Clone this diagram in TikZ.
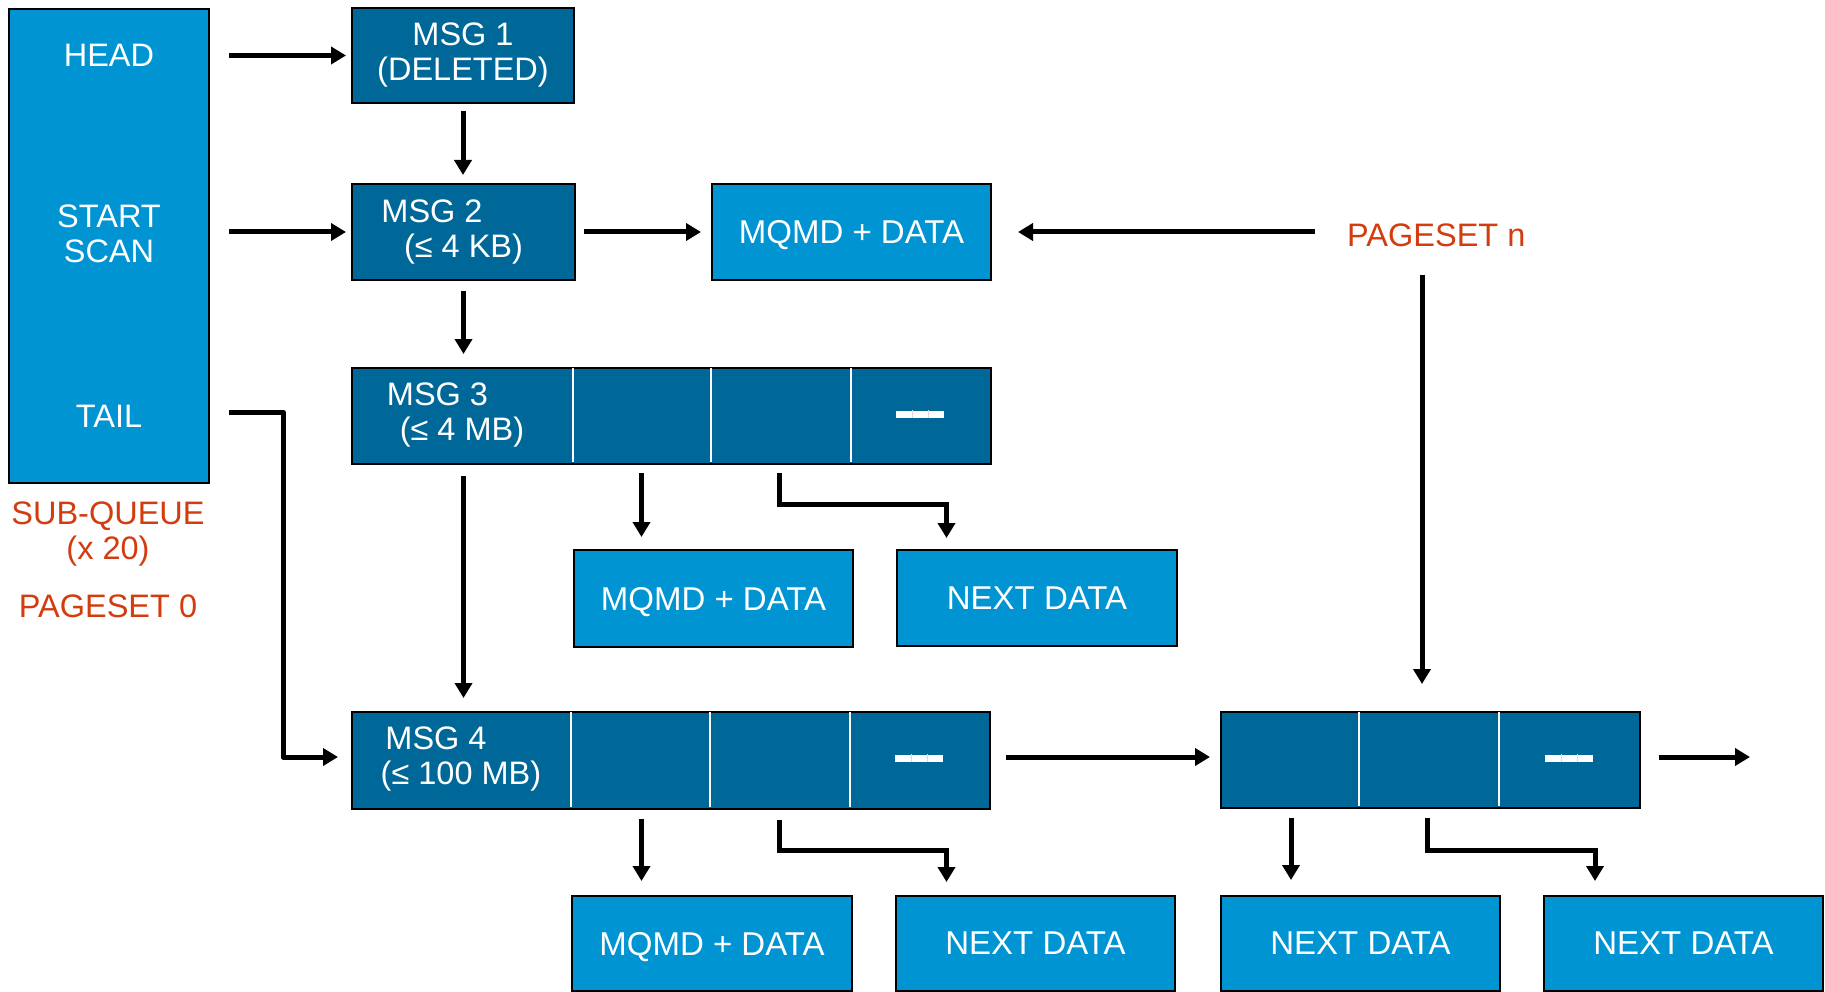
\documentclass[tikz,border=0pt]{standalone}
\usepackage{fontspec}
\setmainfont{Liberation Sans}
\usetikzlibrary{arrows.meta,calc}
\definecolor{lblue}{RGB}{0,148,211}
\definecolor{dblue}{RGB}{0,104,152}
\definecolor{qred}{RGB}{210,60,15}
\begin{document}
\begin{tikzpicture}[x=1pt,y=-1pt,
  font=\fontsize{32.5}{35}\selectfont,
  lbox/.style={draw=black, line width=2pt, fill=lblue, text=white, inner sep=0pt, anchor=north west, align=center},
  dbox/.style={lbox, fill=dblue},
  dtext/.style={font=\fontsize{33}{35}\selectfont, text depth=0pt},
  lbl/.style={text=white, inner sep=0pt, align=center},
  rlbl/.style={text=qred, inner sep=0pt, align=center},
  arr/.style={line width=5pt, -{Triangle[length=15pt,width=17pt]}},
  cellsep/.style={draw=white, line width=1.5pt},
  dashbar/.style={fill=white, draw=none, minimum width=48pt, minimum height=7pt, inner sep=0pt},
  barsep/.style={draw=black!15, line width=0.8pt}
]
\useasboundingbox (0,0) rectangle (1825,992);
\fill[white] (0,0) rectangle (1825,992);

% sub-queue
\node[lbox, minimum width=200pt, minimum height=474pt] (sq) at (8,8) {};
\node[lbl] (head) at (109,55) {HEAD};
\node[lbl] (scan) at (109,234) {START\\SCAN};
\node[lbl] (tail) at (109,416) {TAIL};
\node[rlbl] (subq) at (108,534) {SUB-QUEUE\\(x 20)};
\node[rlbl] (ps0) at (108,606) {PAGESET 0};

% messages
\node[dbox, minimum width=222pt, minimum height=95pt] (m1) at (351,7) {MSG 1\\(DELETED)};
\node[dbox, minimum width=223pt, minimum height=96pt] (m2) at (351,183) {MSG 2\hspace*{63pt}\\(≤ 4 KB)};
\node[lbox, dtext, minimum width=279pt, minimum height=96pt] (mq1) at (711,183) {MQMD + DATA};
\node[rlbl, anchor=west] (pn) at (1347,235) {PAGESET n};

% row 3
\node[dbox, minimum width=639pt, minimum height=96pt] (r3) at (351,367) {};
\draw[cellsep] (573,368) -- (573,462) (711,368) -- (711,462) (851,368) -- (851,462);
\node[lbl] (m3) at (462,415) {MSG 3\hspace*{49pt}\\(≤ 4 MB)};
\node[dashbar] (bar3) at (920,414) {};
\draw[barsep] ([xshift=-8pt]bar3.north) -- ([xshift=-8pt]bar3.south) ([xshift=8pt]bar3.north) -- ([xshift=8pt]bar3.south);

\node[lbox, dtext, minimum width=279pt, minimum height=97pt] (mq2) at (573,549) {MQMD + DATA};
\node[lbox, dtext, minimum width=280pt, minimum height=96pt] (nd2) at (896,549) {NEXT DATA};

% row 4
\node[dbox, minimum width=638pt, minimum height=97pt] (r4) at (351,711) {};
\draw[cellsep] (571,712) -- (571,807) (710,712) -- (710,807) (850,712) -- (850,807);
\node[lbl] (m4) at (461,759) {MSG 4\hspace*{50pt}\\(≤ 100 MB)};
\node[dashbar] (bar4) at (919,758) {};
\draw[barsep] ([xshift=-8pt]bar4.north) -- ([xshift=-8pt]bar4.south) ([xshift=8pt]bar4.north) -- ([xshift=8pt]bar4.south);

% pageset n row
\node[dbox, minimum width=419pt, minimum height=96pt] (pr) at (1220,711) {};
\draw[cellsep] (1359,712) -- (1359,806) (1499,712) -- (1499,806);
\node[dashbar] (barp) at (1569,758) {};
\draw[barsep] ([xshift=-8pt]barp.north) -- ([xshift=-8pt]barp.south) ([xshift=8pt]barp.north) -- ([xshift=8pt]barp.south);

% bottom boxes
\node[lbox, dtext, minimum width=280pt, minimum height=95pt] (mq3) at (571,895) {MQMD + DATA};
\node[lbox, dtext, minimum width=279pt, minimum height=95pt] (nd3) at (895,895) {NEXT DATA};
\node[lbox, dtext, minimum width=279pt, minimum height=95pt] (nd4) at (1220,895) {NEXT DATA};
\node[lbox, dtext, minimum width=279pt, minimum height=95pt] (nd5) at (1543,895) {NEXT DATA};

% helper coordinates
\coordinate (x2) at (641.5,0);
\coordinate (x3) at (779.5,0);
\coordinate (x3e) at (946.5,0);
\coordinate (tx) at (283,0);
\coordinate (ty) at (0,412);
\coordinate (ya) at (0,757);
\coordinate (px) at (1422,0);
\coordinate (p1) at (1291,0);
\coordinate (p2) at (1427,0);
\coordinate (p3) at (1595,0);
\coordinate (bend3) at (0,504);
\coordinate (bend4) at (0,850);
\coordinate (pend) at (1750,757);

% arrows
\draw[arr, shorten <=19pt, shorten >=5pt] (sq.east |- m1.west) -- (m1.west);
\draw[arr, shorten <=7pt, shorten >=8pt] (m1.south) -- (m2.north -| m1.south);
\draw[arr, shorten <=19pt, shorten >=5pt] (sq.east |- m2.west) -- (m2.west);
\draw[arr, shorten <=8pt, shorten >=10pt] (m2.east) -- (mq1.west);
\draw[arr, shorten <=32pt, shorten >=26pt] (pn.west |- mq1.east) -- (mq1.east);
\draw[arr, shorten <=10pt, shorten >=13pt] (m2.south) -- (r3.north -| m2.south);
\draw[arr, shorten <=19pt, shorten >=13pt, line join=round] (sq.east |- ty) -- (tx |- ty) -- (tx |- ya) -- (r4.west |- ya);
\draw[arr, shorten <=11pt, shorten >=13pt] (r3.south -| m2.south) -- (r4.north -| m2.south);
\draw[arr, shorten <=8pt, shorten >=12pt] (r3.south -| x2) -- (mq2.north -| x2);
\draw[arr, shorten <=8pt, shorten >=11pt] (r3.south -| x3) -- (x3 |- bend3) -- (x3e |- bend3) -- (nd2.north -| x3e);
\draw[arr, shorten <=28pt, shorten >=27pt] (px |- pn.south) -- (px |- pr.north);
\draw[arr, shorten <=15pt, shorten >=10pt] (r4.east |- ya) -- (pr.west |- ya);
\draw[arr, shorten <=18pt] (pr.east |- ya) -- (pend);
\draw[arr, shorten <=9pt, shorten >=14pt] (r4.south -| x2) -- (mq3.north -| x2);
\draw[arr, shorten <=10pt, shorten >=13pt] (r4.south -| x3) -- (x3 |- bend4) -- (x3e |- bend4) -- (nd3.north -| x3e);
\draw[arr, shorten <=9pt, shorten >=15pt] (pr.south -| p1) -- (nd4.north -| p1);
\draw[arr, shorten <=9pt, shorten >=14pt] (pr.south -| p2) -- (p2 |- bend4) -- (p3 |- bend4) -- (nd5.north -| p3);
\end{tikzpicture}
\end{document}
